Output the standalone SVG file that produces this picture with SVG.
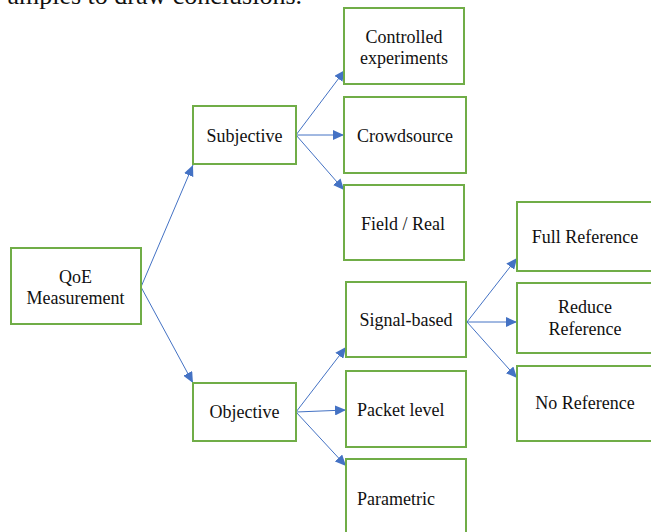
<svg xmlns="http://www.w3.org/2000/svg" width="651" height="532" viewBox="0 0 651 532">
<defs>
<marker id="ah" markerUnits="userSpaceOnUse" markerWidth="12" markerHeight="10" refX="11" refY="5" orient="auto">
<path d="M0,0 L11,5 L0,10 Z" fill="#4472C4"/>
</marker>
<style>
.box{fill:#fff;stroke:#70AD47;stroke-width:2}
.t{font-size:18px;fill:#111}
.c{text-anchor:middle}
.e{fill:none;stroke:#4472C4;stroke-width:1;marker-end:url(#ah)}
</style>
</defs>
<rect width="651" height="532" fill="#fff"/>
<g font-family="Liberation Serif, Times New Roman, serif">
<text x="302" y="4" font-size="26" fill="#111" text-anchor="end">amples to draw conclusions.</text>
<g id="connectors">
<path class="e" d="M141,287 L193,165"/>
<path class="e" d="M141,287 L193,383"/>
<path class="e" d="M296,135 L345,70"/>
<path class="e" d="M296,135 L344,135"/>
<path class="e" d="M296,135 L344,190"/>
<path class="e" d="M296,412 L346,347"/>
<path class="e" d="M296,412 L346,410"/>
<path class="e" d="M296,412 L346,466"/>
<path class="e" d="M467,322 L517,258"/>
<path class="e" d="M467,322 L517,322"/>
<path class="e" d="M467,322 L517,378"/>
</g>
<g id="qoe"><rect class="box" x="11" y="248" width="130" height="76"/><text class="t c" x="75.5" y="283">QoE</text><text class="t c" x="75.5" y="304">Measurement</text></g>
<g id="subjective"><rect class="box" x="193" y="106" width="103" height="58"/><text class="t c" x="244.5" y="142">Subjective</text></g>
<g id="objective"><rect class="box" x="193" y="383" width="103" height="58"/><text class="t c" x="244.5" y="418">Objective</text></g>
<g id="controlled"><rect class="box" x="344" y="8" width="120" height="76"/><text class="t c" x="404" y="43">Controlled</text><text class="t c" x="404" y="64">experiments</text></g>
<g id="crowdsource"><rect class="box" x="344" y="97" width="122" height="76"/><text class="t c" x="405" y="142">Crowdsource</text></g>
<g id="field"><rect class="box" x="344" y="185" width="120" height="75"/><text class="t c" x="403" y="230">Field / Real</text></g>
<g id="signal"><rect class="box" x="346" y="282" width="120" height="75"/><text class="t c" x="406" y="326">Signal-based</text></g>
<g id="packet"><rect class="box" x="346" y="371" width="120" height="76"/><text class="t" x="357" y="416">Packet level</text></g>
<g id="parametric"><rect class="box" x="346" y="459" width="120" height="80"/><text class="t" x="357" y="505">Parametric</text></g>
<g id="full"><rect class="box" x="517" y="202" width="140" height="69"/><text class="t c" x="585" y="243">Full Reference</text></g>
<g id="reduce"><rect class="box" x="517" y="283" width="140" height="70"/><text class="t c" x="585" y="313">Reduce</text><text class="t c" x="585" y="335">Reference</text></g>
<g id="noref"><rect class="box" x="517" y="366" width="140" height="75"/><text class="t c" x="585" y="409">No Reference</text></g>
</g>
</svg>
